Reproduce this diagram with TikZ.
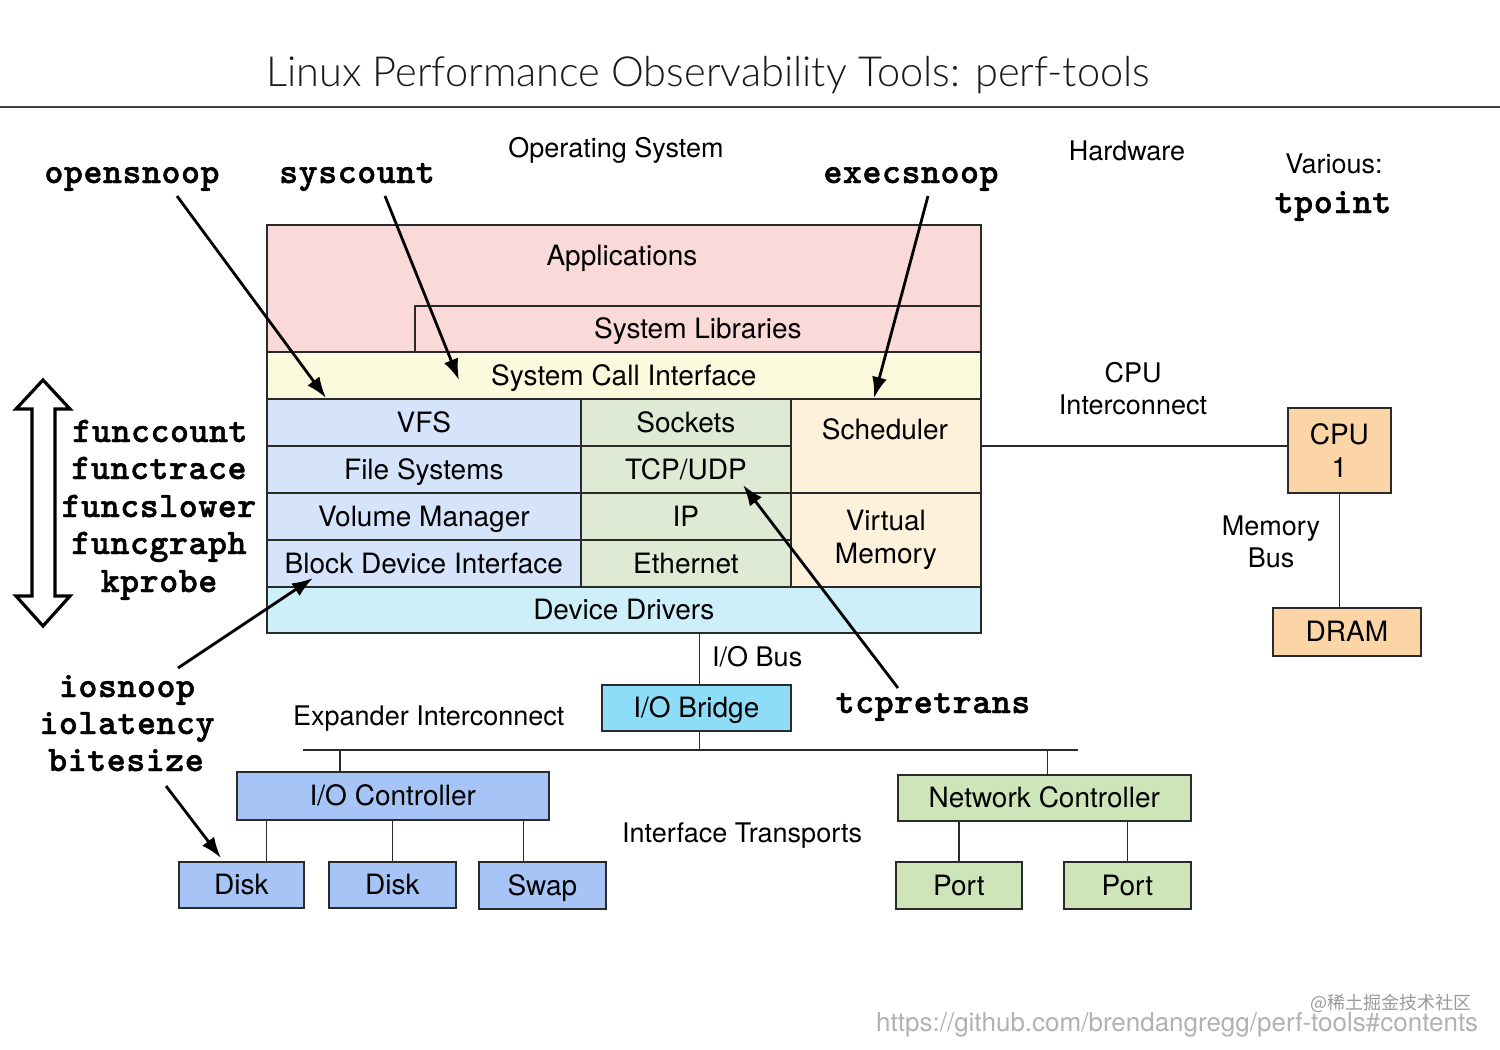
\documentclass[tikz,border=0pt]{standalone}
\usepackage{fontspec}
\setmainfont{TeX Gyre Heros}
\newfontfamily\monob[LetterSpace=1.7, FakeBold=1.3]{lmmonolt10-bold.otf}
\newfontfamily\titlef{Lato Light}
\newfontfamily\cjkf{Noto Sans CJK SC}
\usetikzlibrary{arrows.meta}
\definecolor{appc}{HTML}{FAD9D9}
\definecolor{scic}{HTML}{FBFADC}
\definecolor{filec}{HTML}{D5E3FB}
\definecolor{netc}{HTML}{DFEAD5}
\definecolor{schedc}{HTML}{FDF1DB}
\definecolor{ddc}{HTML}{CDEFFA}
\definecolor{bridgec}{HTML}{8EDDF8}
\definecolor{ioc}{HTML}{A7C4F6}
\definecolor{ncc}{HTML}{CDE5B8}
\definecolor{cpuc}{HTML}{FBD5A6}
\definecolor{edgec}{HTML}{2A2A2A}
\begin{document}
\begin{tikzpicture}[x=1pt,y=-1pt,
  blk/.style={draw=edgec, line width=1.7pt, anchor=north west, inner sep=0pt, align=center, font=\fontsize{28}{33}\selectfont},
  one/.style={text height=24pt, text depth=4pt},
  lbl/.style={inner sep=0pt, align=center, font=\fontsize{28}{33}\selectfont, one},
  flbl/.style={inner sep=0pt, align=center, font=\fontsize{27}{32}\selectfont},
  tool/.style={inner sep=0pt, anchor=base, font=\monob\fontsize{36}{37.5}\selectfont},
  arr/.style={line width=2.8pt, -{Latex[length=21pt,width=15pt]}},
  wire/.style={line width=1.6pt, draw=edgec}]
\useasboundingbox (0,0) rectangle (1500,1050);
\fill[white] (0,0) rectangle (1500,1050);

% title
\node[inner sep=0pt, font=\titlef\fontsize{41.5}{46}\selectfont, text=black!90] (title) at (708,75) {Linux Performance Observability Tools: perf-tools};
\coordinate (ruleL) at (0,107);
\coordinate (ruleR) at (1500,107);
\draw[line width=1.2pt, black!75] (ruleL) -- (ruleR);

% headers
\node[flbl] (os) at (616,150) {Operating System};
\node[flbl] (hw) at (1127,151) {Hardware};
\node[flbl] (various) at (1334,164) {Various:};
\node[tool] (tpoint) at (1333,213) {tpoint};

% stack
\node[blk, fill=appc, minimum width=714pt, minimum height=127pt] (apps) at (266,224) {};
\node[lbl] (appst) at (622,255) {Applications};
\node[blk, one, fill=appc, minimum width=566pt, minimum height=46pt] (slib) at (414,305) {System Libraries};
\node[blk, one, fill=scic, minimum width=714pt, minimum height=47pt] (sci) at (266,351) {System Call Interface};
\node[blk, one, fill=filec, minimum width=314pt, minimum height=47pt] (vfs) at (266,398) {VFS};
\node[blk, one, fill=filec, minimum width=314pt, minimum height=47pt] (fs) at (266,445) {File Systems};
\node[blk, one, fill=filec, minimum width=314pt, minimum height=47pt] (vm) at (266,492) {Volume Manager};
\node[blk, one, fill=filec, minimum width=314pt, minimum height=47pt] (bdi) at (266,539) {Block Device Interface};
\node[blk, one, fill=netc, minimum width=210pt, minimum height=47pt] (sock) at (580,398) {Sockets};
\node[blk, one, fill=netc, minimum width=210pt, minimum height=47pt] (tcp) at (580,445) {TCP/UDP};
\node[blk, one, fill=netc, minimum width=210pt, minimum height=47pt] (ip) at (580,492) {IP};
\node[blk, one, fill=netc, minimum width=210pt, minimum height=47pt] (eth) at (580,539) {Ethernet};
\node[blk, fill=schedc, minimum width=190pt, minimum height=94pt] (sched) at (790,398) {};
\node[lbl] (schedt) at (885,429) {Scheduler};
\node[blk, fill=schedc, minimum width=190pt, minimum height=94pt] (virt) at (790,492) {Virtual\\Memory};
\node[blk, one, fill=ddc, minimum width=714pt, minimum height=46pt] (ddrv) at (266,586) {Device Drivers};

% hardware
\node[blk, fill=cpuc, minimum width=103pt, minimum height=85pt] (cpu) at (1287,407) {CPU\\1};
\node[blk, one, fill=cpuc, minimum width=148pt, minimum height=48pt] (dram) at (1272,607) {DRAM};
\node[flbl] (cpuic) at (1133,389) {CPU\\Interconnect};
\node[flbl] (membus) at (1271,542) {Memory\\Bus};
\draw[wire] (sched.east) -- (sched.east -| cpu.west);
\draw[wire] (cpu.south) -- (cpu.south |- dram.north);

% I/O
\node[blk, one, fill=bridgec, minimum width=189pt, minimum height=46pt] (iobr) at (601,684) {I/O Bridge};
\node[flbl, anchor=west] (iobus) at (712,657) {I/O Bus};
\draw[wire] ([xshift=3pt]iobr.north |- ddrv.south) -- ([xshift=3pt]iobr.north);
\coordinate (busL) at (303,750);
\coordinate (busR) at (1078,750);
\draw[wire] (busL) -- (busR);
\draw[wire] ([xshift=3pt]iobr.south) -- ([xshift=3pt]iobr.south |- busL);
\node[flbl, anchor=west] (expic) at (293,719) {Expander Interconnect};
\node[flbl, anchor=west] (ift) at (622,836) {Interface Transports};

\node[blk, one, fill=ioc, minimum width=312pt, minimum height=48pt] (ioctl) at (236,771) {I/O Controller};
\node[blk, one, fill=ioc, minimum width=125pt, minimum height=46pt] (disk1) at (178,861) {Disk};
\node[blk, one, fill=ioc, minimum width=127pt, minimum height=46pt] (disk2) at (328,861) {Disk};
\node[blk, one, fill=ioc, minimum width=127pt, minimum height=47pt] (swap) at (478,861) {Swap};
\draw[wire] ([xshift=-53pt]ioctl.north) -- ([xshift=-53pt]ioctl.north |- busL);
\draw[wire] ([xshift=25pt]disk1.north) -- ([xshift=25pt]disk1.north |- ioctl.south);
\draw[wire] (disk2.north) -- (disk2.north |- ioctl.south);
\draw[wire] ([xshift=-19pt]swap.north) -- ([xshift=-19pt]swap.north |- ioctl.south);

\node[blk, one, fill=ncc, minimum width=293pt, minimum height=46pt] (netctl) at (897,774) {Network Controller};
\node[blk, one, fill=ncc, minimum width=126pt, minimum height=47pt] (port1) at (895,861) {Port};
\node[blk, one, fill=ncc, minimum width=127pt, minimum height=47pt] (port2) at (1063,861) {Port};
\draw[wire] ([xshift=3pt]netctl.north) -- ([xshift=3pt]netctl.north |- busL);
\draw[wire] (port1.north) -- (port1.north |- netctl.south);
\draw[wire] (port2.north) -- (port2.north |- netctl.south);

% tools
\node[tool] (opensnoop) at (132,183) {opensnoop};
\node[tool] (syscount) at (357,183) {syscount};
\node[tool] (execsnoop) at (911,183) {execsnoop};
\node[tool] (fcount) at (160,442) {funccount};
\node[tool] (ftrace) at (159,479) {functrace};
\node[tool] (fslower) at (159,517) {funcslower};
\node[tool] (fgraph) at (159,554) {funcgraph};
\node[tool] (kprobe) at (159,592) {kprobe};
\node[tool] (iosnoop) at (127,697) {iosnoop};
\node[tool] (iolat) at (127,734) {iolatency};
\node[tool] (bitesize) at (126,771) {bitesize};
\node[tool] (tcpre) at (933,713) {tcpretrans};

\coordinate (a1s) at (177,196); \coordinate (a1e) at (326,398);
\coordinate (a2s) at (385,196); \coordinate (a2e) at (459,380);
\coordinate (a3s) at (928,196); \coordinate (a3e) at (874,398);
\coordinate (a4s) at (898,688); \coordinate (a4e) at (743,485);
\coordinate (a5s) at (178,668); \coordinate (a5e) at (313,578);
\coordinate (a6s) at (166,786); \coordinate (a6e) at (221,858);
\draw[arr] (a1s) -- (a1e);
\draw[arr] (a2s) -- (a2e);
\draw[arr] (a3s) -- (a3e);
\draw[arr] (a4s) -- (a4e);
\draw[arr] (a5s) -- (a5e);
\draw[arr] (a6s) -- (a6e);

% double arrow
\draw[line width=3.2pt, fill=white, line join=miter] (43,380) -- (70,409) -- (55,409) -- (55,596) -- (70,596) -- (43,626) -- (16,596) -- (32,596) -- (32,409) -- (16,409) -- cycle;

% footer
\node[inner sep=0pt, anchor=west, text=black!30, font=\fontsize{26}{30}\selectfont] (url) at (876,1025) {https://github.com/brendangregg/perf-tools\#contents};
\node[inner sep=0pt, anchor=west, text=black!40, font=\cjkf\fontsize{18}{22}\selectfont] (wm) at (1310,1003) {@稀土掘金技术社区};
\end{tikzpicture}
\end{document}
